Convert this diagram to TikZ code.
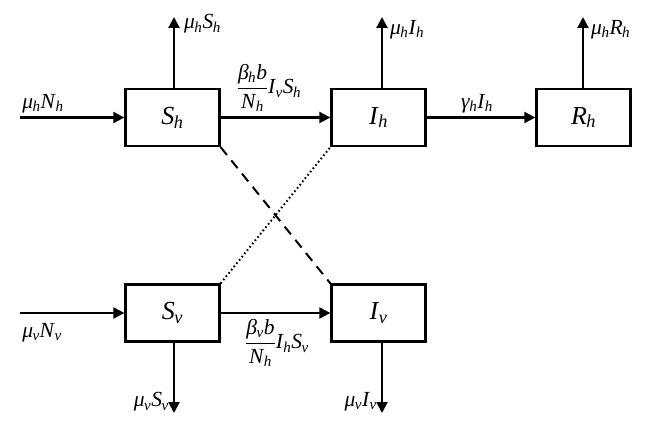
\documentclass[tikz,border=0pt]{standalone}
\usepackage{fix-cm}
\usepackage{fontspec}
\setmainfont{Liberation Serif}
\usetikzlibrary{arrows.meta}
\newcommand\vsub[2]{\textit{#1}\textsubscript{\kern-0.5pt\textit{#2}}}
\newcommand\myfrac[2]{$\displaystyle\frac{\mbox{#1}}{\mbox{#2}}$}
\begin{document}
\begin{tikzpicture}[x=1pt,y=-1pt,
  box/.style={draw,line width=2.3pt,minimum width=94pt,minimum height=57pt,inner sep=0pt,font=\fontsize{26}{30}\selectfont},
  arr/.style={line width=2.1pt,-{Triangle[length=11pt,width=11pt]}},
  lbl/.style={inner sep=0pt,font=\fontsize{21.5}{25}\selectfont},
  flbl/.style={inner sep=0pt,font=\fontsize{21.5}{25}\selectfont}]
\useasboundingbox (0,0) rectangle (647,428);
\node[box] (Sh) at (172.5,117.5) {\vsub{S}{h}};
\node[box] (Ih) at (378.5,117.5) {\vsub{I}{h}};
\node[box] (Rh) at (583.5,117.5) {\vsub{R}{h}};
\node[box] (Sv) at (172.5,313) {\vsub{S}{v}};
\node[box] (Iv) at (378.5,313) {\vsub{I}{v}};
% inflows
\coordinate (inh) at (20,117.5);
\coordinate (inv) at (20,313);
\draw[arr] (inh) -- (Sh.west);
\draw[arr] (inv) -- (Sv.west);
% transitions
\draw[arr] (Sh.east) -- (Ih.west);
\draw[arr] (Ih.east) -- (Rh.west);
\draw[arr] (Sv.east) -- (Iv.west);
% deaths
\coordinate (dSh) at (174,17);
\coordinate (dIh) at (382,17);
\coordinate (dRh) at (583,17);
\coordinate (dSv) at (174,413);
\coordinate (dIv) at (382,413);
\draw[arr] (Sh.north -| dSh) -- (dSh);
\draw[arr] (Ih.north -| dIh) -- (dIh);
\draw[arr] (Rh.north -| dRh) -- (dRh);
\draw[arr] (Sv.south -| dSv) -- (dSv);
\draw[arr] (Iv.south -| dIv) -- (dIv);
% cross links
\draw[line width=2pt,dash pattern=on 10pt off 7pt] (Sh.south east) -- (Iv.north west);
\draw[line width=2pt,dash pattern=on 1.6pt off 2.6pt] (Sv.north east) -- (Ih.south west);
% labels
\node[lbl] (lNh) at (43,104) {\vsub{μ}{h}\vsub{N}{h}};
\node[lbl] (lNv) at (42,333) {\vsub{μ}{v}\vsub{N}{v}};
\node[lbl,anchor=west] (lSh) at (184,24) {\vsub{μ}{h}\vsub{S}{h}};
\node[lbl,anchor=west] (lIh) at (390,30) {\vsub{μ}{h}\vsub{I}{h}};
\node[lbl,anchor=west] (lRh) at (591,30) {\vsub{μ}{h}\vsub{R}{h}};
\node[lbl,anchor=east] (lSv) at (169,402) {\vsub{μ}{v}\vsub{S}{v}};
\node[lbl,anchor=east] (lIv) at (377,402) {\vsub{μ}{v}\vsub{I}{v}};
\node[lbl] (lg) at (477,104) {\vsub{γ}{h}\vsub{I}{h}};
\node[flbl] (fh) at (269,88) {\myfrac{\vsub{β}{h}\textit{b}}{\vsub{N}{h}}\vsub{I}{v}\vsub{S}{h}};
\node[flbl] (fv) at (277,343) {\myfrac{\vsub{β}{v}\textit{b}}{\vsub{N}{h}}\vsub{I}{h}\vsub{S}{v}};
\end{tikzpicture}
\end{document}
